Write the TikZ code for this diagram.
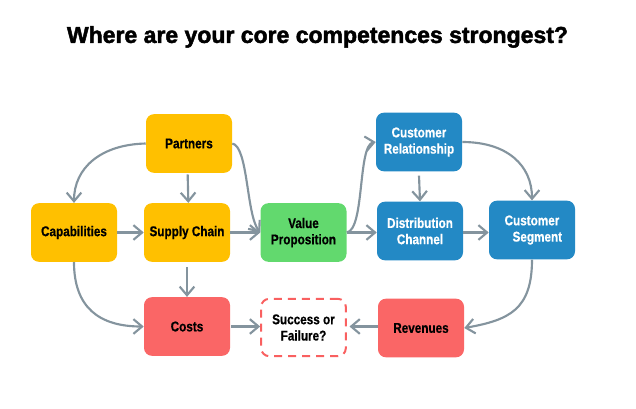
\documentclass[tikz,border=0pt]{standalone}
\usepackage{fontspec}
\usetikzlibrary{arrows.meta}
\setmainfont{Liberation Sans}
\newfontfamily\lblfont[FakeStretch=0.83,FakeBold=0.5]{Liberation Sans Bold}
\newfontfamily\ttlfont[FakeBold=2]{Liberation Sans Bold}
\definecolor{cyel}{HTML}{FFC000}
\definecolor{cgrn}{HTML}{62D96E}
\definecolor{cred}{HTML}{FA6666}
\definecolor{cblu}{HTML}{2389C5}
\definecolor{carr}{HTML}{84949E}
\definecolor{cdash}{HTML}{F96060}
\tikzset{
  px/.style={x=0.75pt,y=-0.75pt},
  boxbase/.style={rounded corners=6pt,minimum width=64.5pt,minimum height=44pt,inner sep=0pt,align=center,
    font=\lblfont\fontsize{10.6}{12.2}\selectfont},
  ybox/.style={boxbase,fill=cyel,text=black},
  gbox/.style={boxbase,fill=cgrn,text=black},
  rbox/.style={boxbase,fill=cred,text=black},
  bbox/.style={boxbase,fill=cblu,text=white},
  dbox/.style={boxbase,draw=cdash,line width=1.5pt,dash pattern=on 6pt off 4.5pt,text=black,minimum width=63.5pt,minimum height=43pt},
  conn/.style={draw=carr,line width=1.6pt,-{Straight Barb[length=6.5pt,width=11pt,line width=1.6pt]}},
}
\begin{document}
\begin{tikzpicture}[px]
\useasboundingbox (0,0) rectangle (636,408);
\node[font=\ttlfont\fontsize{17.25}{20}\selectfont] (title) at (317.5,37) {Where are your core competences strongest?};
\node[ybox] (p) at (189,143.5) {Partners};
\node[ybox] (cap) at (74,232.5) {Capabilities};
\node[ybox] (sc) at (187,232.5) {Supply Chain};
\node[gbox] (vp) at (303.5,232.5) {Value\\Proposition};
\node[rbox] (co) at (187,326.5) {Costs};
\node[dbox] (sf) at (303.5,327.5) {Success or\\Failure?};
\node[bbox] (cr) at (419,142) {Customer\\Relationship};
\node[bbox] (dc) at (420,231) {Distribution\\Channel};
\node[bbox] (cs) at (532,230) {Customer\\\hspace*{8pt}Segment};
\node[rbox] (re) at (421,328) {Revenues};
\draw[conn] (p.west) .. controls +(-45,1) and +(0,-35) .. (cap.north);
\draw[conn] ([xshift=-1pt,yshift=-1pt]p.south) -- ([xshift=1pt]sc.north);
\draw[conn] (cap.east) -- (sc.west);
\draw[conn] (sc.east) -- (vp.west);
\draw[conn] (p.east) .. controls +(16,3) and +(-14,-18) .. (vp.west);
\draw[conn] (sc.south) ++(0,5) -- (co.north);
\draw[conn] (cap.south) .. controls +(0,45) and +(-45,0) .. (co.west);
\draw[conn] (co.east) ++(1,0) -- (co.east -| sf.west);
\draw[conn] (re.west |- co.east) -- ([xshift=2pt]sf.east |- co.east);
\draw[conn] (vp.east) -- (vp.east -| dc.west);
\draw[conn] (vp.east) .. controls +(18,-3) and +(-18,3) .. (cr.west);
\draw[conn] (cr.south) ++(0,4) -- (dc.north);
\draw[conn] (vp.east -| dc.east) -- (vp.east -| cs.west);
\draw[conn] (cr.east) .. controls +(45,0) and +(0,-35) .. (cs.north);
\draw[conn] (cs.south) .. controls +(0,50) and +(45,-8) .. (re.east);
\end{tikzpicture}
\end{document}
